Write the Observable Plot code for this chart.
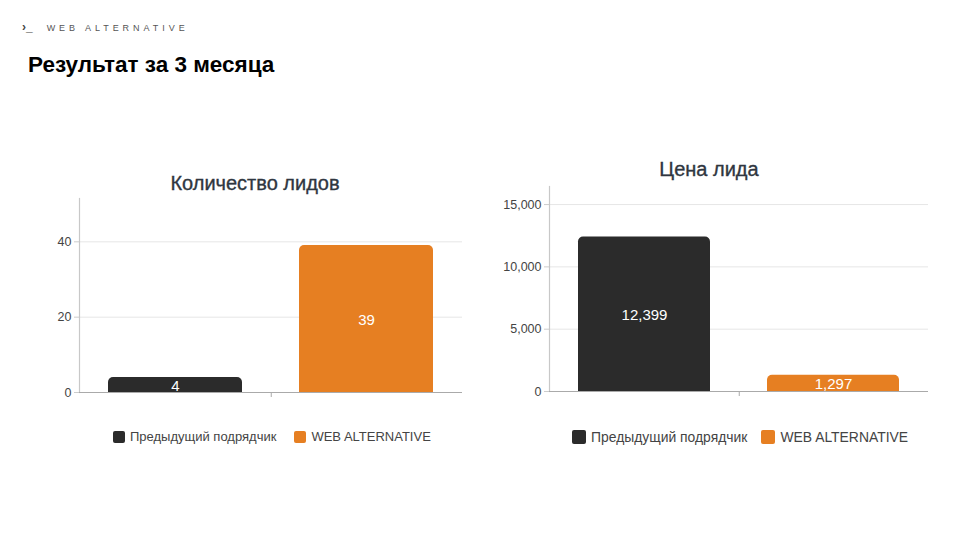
<!DOCTYPE html>
<html>
<head>
<meta charset="utf-8">
<script src="https://cdn.jsdelivr.net/npm/d3@7"></script>
<script src="https://cdn.jsdelivr.net/npm/@observablehq/plot@0.6"></script>
<style>
  html, body { margin: 0; padding: 0; background: #fff; }
  body { width: 960px; height: 540px; position: relative; overflow: hidden; font-family: "Liberation Sans", Arial, sans-serif; }
  .brand { position: absolute; left: 22px; top: 20px; font-size: 9px; color: #555; letter-spacing: 3.95px; white-space: nowrap; }
  .brand .pr { letter-spacing: 0; font-size: 12px; font-weight: bold; margin-right: 14px; color: #444; }
  .title { position: absolute; left: 28px; top: 52px; font-size: 22.5px; font-weight: bold; color: #000; white-space: nowrap; }
  .ctitle { position: absolute; font-size: 20px; color: #2f3640; white-space: nowrap; transform: translateX(-50%); -webkit-text-stroke: 0.35px #2f3640; }
  .chart { position: absolute; top: 180px; }
  .legend { position: absolute; font-size: 13px; color: #444; white-space: nowrap; display: flex; align-items: center; }
  .legend .sw { display: inline-block; width: 12px; height: 12px; border-radius: 2px; margin-right: 5px; }
  .legend .item { display: inline-flex; align-items: center; margin-right: 18px; }
  #l1 { top: 429px; }
  #l2 { top: 429px; font-size: 13.9px; }
  #l2 .sw { width: 14px; height: 14px; margin-right: 5px; }
  #l2 .item { margin-right: 14px; }
</style>
</head>
<body>
<div class="brand"><span class="pr">›_</span>WEB ALTERNATIVE</div>
<div class="title">Результат за 3 месяца</div>
<div class="ctitle" style="left:255px; top:172px;">Количество лидов</div>
<div class="ctitle" style="left:709px; top:158px;">Цена лида</div>
<div id="c1" class="chart" style="left:0px;"></div>
<div id="c2" class="chart" style="left:480px;"></div>
<div id="l1" class="legend" style="left:113px;"></div>
<div id="l2" class="legend" style="left:572px;"></div>
<script>
const categories = ["Предыдущий подрядчик", "WEB ALTERNATIVE"];
const colors = ["#2b2b2b", "#e67f22"];
const leadsValues = [4, 39];
const costValues = [12399, 1297];
const leadsTicks = [0, 20, 40];
const costTicks = [0, 5000, 10000, 15000];
const leadsMax = 51.5;
const costMax = 16450;

function makeChart(values, ticks, yMax, m) {
  const data = categories.map((c, i) => ({category: c, value: values[i]}));
  const W = 480, H = 230;
  const step = (W - m.left - m.right) / 2;
  return Plot.plot({
    width: W,
    height: H,
    marginLeft: m.left,
    marginRight: m.right,
    marginTop: m.top,
    marginBottom: m.bottom,
    style: {fontFamily: '"Liberation Sans", Arial, sans-serif', fontSize: "12px", color: "#444", background: "transparent"},
    x: {domain: categories, paddingInner: 0.3, paddingOuter: 0.15, axis: null},
    y: {domain: [0, yMax], axis: null},
    color: {domain: categories, range: colors},
    marks: [
      Plot.ruleY(ticks.filter(t => t > 0), {stroke: "#e6e6e6", strokeWidth: 1}),
      Plot.axisY({ticks: ticks, tickFormat: d3.format(","), tickSize: 5, tickPadding: 3, stroke: "#ccc", fill: "#444", fontSize: 12.5, label: null}),
      Plot.barY(data, {x: "category", y: "value", fill: "category", rx: 5, insetBottom: -8, clip: true}),
      Plot.frame({anchor: "left", stroke: "#c8c8c8", strokeWidth: 1.2}),
      Plot.ruleY([0], {stroke: "#aaa", strokeWidth: 1.2}),
      Plot.ruleX([categories[0]], {x: d => d, y1: 0, y2: 0, dx: step / 2, insetBottom: -5, insetTop: 0, stroke: "#aaa"}),
      Plot.text(data, {x: "category", y: d => d.value / 2, text: d => d3.format(",")(d.value), fill: "#fff", fontSize: 15, dy: 1})
    ]
  });
}

function legend(el) {
  categories.forEach((c, i) => {
    const item = document.createElement("span");
    item.className = "item";
    const sw = document.createElement("span");
    sw.className = "sw";
    sw.style.background = colors[i];
    item.appendChild(sw);
    item.appendChild(document.createTextNode(c));
    el.appendChild(item);
  });
}

document.getElementById("c1").appendChild(makeChart(leadsValues, leadsTicks, leadsMax, {left: 79, right: 18, top: 18, bottom: 18}));
document.getElementById("c2").appendChild(makeChart(costValues, costTicks, costMax, {left: 69, right: 32, top: 6, bottom: 19}));
legend(document.getElementById("l1"));
legend(document.getElementById("l2"));
</script>
</body>
</html>
